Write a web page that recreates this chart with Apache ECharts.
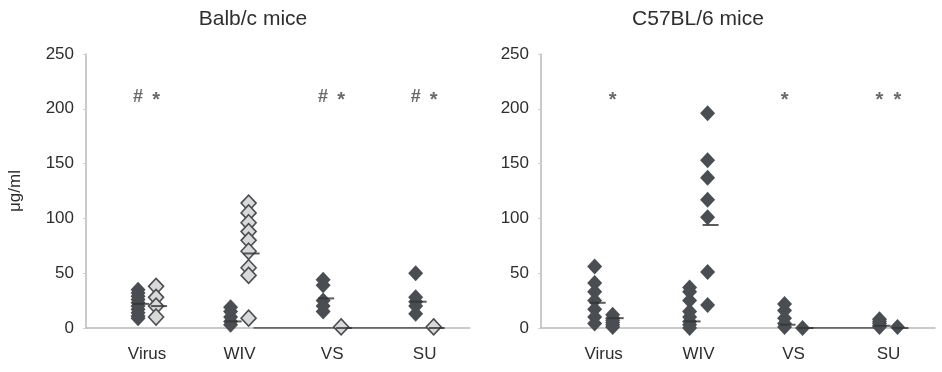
<!DOCTYPE html>
<html><head><meta charset="utf-8">
<script src="https://cdn.jsdelivr.net/npm/echarts@6/dist/echarts.min.js"></script>
<style>html,body{margin:0;padding:0;background:#fff}#c{width:942px;height:372px}</style>
</head><body><div id="c"></div>
<script>
// ---- data ----
const categories = ['Virus', 'WIV', 'VS', 'SU'];
const yTicks = [0, 50, 100, 150, 200, 250];
const panelTitles = ['Balb/c mice', 'C57BL/6 mice'];
const yAxisName = 'μg/ml';

// Balb/c: first (dark, filled) and second (open) group per category
const balbDark = [[35, 32, 29, 26, 23, 20, 17, 14, 11, 9], [19, 15, 10, 6, 3], [44, 39, 25, 20, 15], [50, 28, 24, 20, 13]];
const balbOpen = [[38, 28, 20, 10], [114, 105, 96, 88, 80, 70, 55, 48, 9], [1], [1]];
const balbDarkMedian = [22, 6, 27, 24];
const balbOpenMedian = [20, 68, 0, 0];
const balbDarkMarks = ['#', '', '#', '#'];
const balbOpenMarks = ['*', '', '*', '*'];
const balbZeroSpan = ['WIV', 'SU'];

// C57BL/6: both groups filled
const c57Dark = [[56, 41, 33, 25, 17, 10, 4], [37, 33, 25, 15, 10, 6, 3, 0], [22, 16, 9, 4, 1], [8, 6, 4, 2, 1]];
const c57Open = [[12, 9, 7, 5, 3, 1], [196, 153, 137, 117, 101, 51, 21], [0], [1]];
const c57DarkMedian = [23, 6, 3, 2];
const c57OpenMedian = [9, 94, 0, 0];
const c57DarkMarks = ['', '', '*', '*'];
const c57OpenMarks = ['*', '', '', '*'];
const c57ZeroSpan = ['VS', 'SU'];

const annotationY = 212;

// ---- helpers ----
const DARK = '#4a4d52';
const LIGHT = '#d9d9d9';
const AX = '#b9b9b9';
const TXT = '#2e2e2e';
const FONT = '"Liberation Sans", Arial, sans-serif';

function pts(groups) {
  const out = [];
  groups.forEach((vals, i) => vals.forEach(v => out.push([i + 1, v])));
  return out;
}
function medPts(meds) { return meds.map((v, i) => [i + 1, v]); }
function markPts(marks, dx) {
  return marks.map((t, i) => t ? {
    value: [i + 1, annotationY],
    label: t === '*' ? { formatter: t, fontSize: 20, offset: [dx, 5] } : { formatter: t, fontSize: 18, offset: [dx, 1] }
  } : null).filter(Boolean);
}
function spanPts(span, dx0, dx1) {
  return [[categories.indexOf(span[0]) + 1 + dx0, 0], [categories.indexOf(span[1]) + 1 + dx1, 0]];
}

const OFF = 9;
const MS = [15, 16];
function panelSeries(k, dark, open, darkMed, openMed, darkMarks, openMarks, zeroSpan, openFilled, z0, z1) {
  const base = { xAxisIndex: k, yAxisIndex: k };
  const markLabel = { show: true, position: 'inside', fontWeight: 'bold', color: '#444', fontFamily: FONT };
  return [
    Object.assign({
      type: 'scatter', symbol: 'diamond', symbolSize: MS, symbolOffset: [-OFF, 0],
      itemStyle: { color: DARK, opacity: 1 }, data: pts(dark), z: 3
    }, base),
    Object.assign({
      type: 'scatter', symbol: 'diamond', symbolSize: MS, symbolOffset: [OFF, 0],
      itemStyle: openFilled ? { color: DARK, opacity: 1 } : { color: LIGHT, borderColor: DARK, borderWidth: 1.6, opacity: 1 },
      data: pts(open), z: 4
    }, base),
    Object.assign({
      type: 'line', data: spanPts(zeroSpan, z0, z1), symbol: 'none',
      lineStyle: { color: '#444', width: 1.5 }, z: 2, silent: true
    }, base),
    Object.assign({
      type: 'scatter', symbol: 'rect', symbolSize: [16, 2], symbolOffset: [-OFF + 3, 0],
      itemStyle: { color: '#333' }, data: medPts(darkMed), z: 5
    }, base),
    Object.assign({
      type: 'scatter', symbol: 'rect', symbolSize: [16, 2], symbolOffset: [OFF + 3, 0],
      itemStyle: { color: '#333' }, data: medPts(openMed), z: 5
    }, base),
    Object.assign({
      type: 'scatter', symbol: 'circle', symbolSize: 2, itemStyle: { color: 'rgba(0,0,0,0)' },
      data: markPts(darkMarks, -OFF), label: markLabel, z: 6
    }, base),
    Object.assign({
      type: 'scatter', symbol: 'circle', symbolSize: 2, itemStyle: { color: 'rgba(0,0,0,0)' },
      data: markPts(openMarks, OFF), label: markLabel, z: 6
    }, base)
  ];
}

function xAxis(k) {
  return {
    type: 'value', gridIndex: k, min: 0.34, max: 4.49,
    axisLine: { show: true, onZero: false, lineStyle: { color: AX, width: 1.5 } },
    axisTick: { show: false },
    splitLine: { show: false },
    axisLabel: {
      customValues: [1, 2, 3, 4], formatter: v => categories[Math.round(v) - 1] || '',
      fontSize: 17, color: TXT, fontFamily: FONT, margin: 18
    }
  };
}
function yAxis(k, withName) {
  return {
    type: 'value', gridIndex: k, min: 0, max: 250, interval: 50,
    name: withName ? yAxisName : '', nameLocation: 'middle', nameGap: 62,
    nameTextStyle: { fontSize: 17, color: TXT, fontFamily: FONT },
    axisLine: { show: true, lineStyle: { color: AX, width: 1.5 } },
    axisTick: { show: true, length: 3, lineStyle: { color: '#d0d0d0' } },
    splitLine: { show: false },
    axisLabel: {
      customValues: yTicks, fontSize: 17, color: TXT, fontFamily: FONT, margin: 12
    }
  };
}

const chart = echarts.init(document.getElementById('c'), null, { renderer: 'canvas' });
chart.setOption({
  animation: false,
  backgroundColor: '#fff',
  graphic: [
    { type: 'text', x: 253, y: 19, style: { text: panelTitles[0], textAlign: 'center', textVerticalAlign: 'middle', font: '21px ' + FONT, fill: TXT } },
    { type: 'text', x: 698, y: 19, style: { text: panelTitles[1], textAlign: 'center', textVerticalAlign: 'middle', font: '21px ' + FONT, fill: TXT } }
  ],
  grid: [
    { left: 86, width: 384, top: 54, height: 274 },
    { left: 541, width: 394, top: 54, height: 274 }
  ],
  xAxis: [xAxis(0), xAxis(1)],
  yAxis: [yAxis(0, true), yAxis(1, false)],
  series: [].concat(
    panelSeries(0, balbDark, balbOpen, balbDarkMedian, balbOpenMedian, balbDarkMarks, balbOpenMarks, balbZeroSpan, false, 0.15, 0.2),
    panelSeries(1, c57Dark, c57Open, c57DarkMedian, c57OpenMedian, c57DarkMarks, c57OpenMarks, c57ZeroSpan, true, 0.08, -0.1)
  )
});
</script>
</body></html>
